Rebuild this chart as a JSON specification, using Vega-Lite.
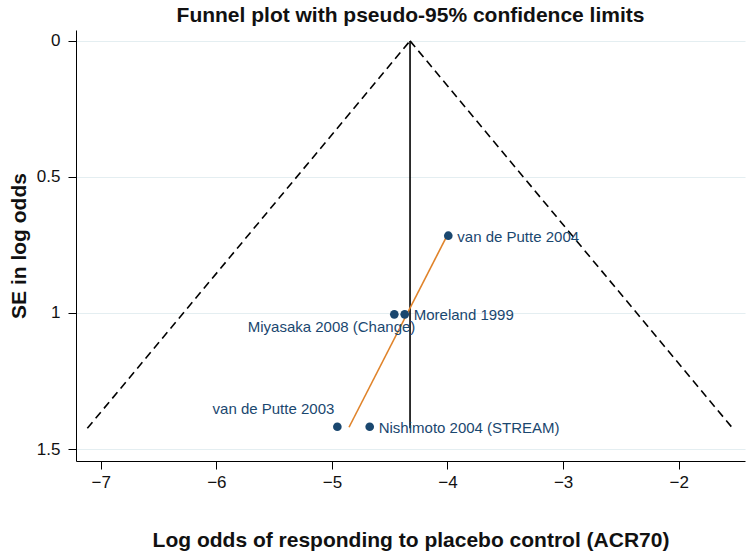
{
  "$schema": "https://vega.github.io/schema/vega-lite/v6.json",
  "autosize": "none",
  "width": 669,
  "height": 431,
  "padding": {"left": 76, "top": 30, "right": 7, "bottom": 97},
  "background": "white",
  "title": {"text": "Funnel plot with pseudo-95% confidence limits", "font": "Liberation Sans", "fontSize": 21, "fontWeight": "bold", "color": "#111", "anchor": "middle", "offset": 4},
  "config": {
    "view": {"stroke": null},
    "font": "Liberation Sans"
  },
  "datasets": {
    "funnel": [
      {"x": -7.116, "se": 1.424, "side": "left"},
      {"x": -4.324, "se": 0, "side": "left"},
      {"x": -4.324, "se": 0, "side": "right"},
      {"x": -1.532, "se": 1.424, "side": "right"}
    ],
    "center": [{"x": -4.324, "se": 0, "se2": 1.424}],
    "egger": [
      {"x": -4.852, "se": 1.42},
      {"x": -3.998, "se": 0.711}
    ],
    "studies": [
      {"study": "van de Putte 2004", "x": -3.993, "se": 0.716, "pos": "right"},
      {"study": "Moreland 1999", "x": -4.37, "se": 1.005, "pos": "right"},
      {"study": "Miyasaka 2008 (Change)", "x": -4.46, "se": 1.005, "pos": "belowleft"},
      {"study": "van de Putte 2003", "x": -4.953, "se": 1.418, "pos": "aboveleft"},
      {"study": "Nishimoto 2004 (STREAM)", "x": -4.673, "se": 1.418, "pos": "right"}
    ]
  },
  "encoding": {
    "x": {
      "field": "x", "type": "quantitative",
      "scale": {"domain": [-7.214, -1.426], "nice": false, "zero": false},
      "axis": {
        "title": "Log odds of responding to placebo control (ACR70)",
        "values": [-7, -6, -5, -4, -3, -2],
        "format": "d",
        "grid": false,
        "domainColor": "#000", "tickColor": "#000", "tickSize": 8,
        "labelFontSize": 17, "labelColor": "#111", "labelPadding": 5,
        "titleFontSize": 21, "titleFontWeight": "bold", "titleColor": "#111", "titlePadding": 39
      }
    },
    "y": {
      "field": "se", "type": "quantitative",
      "scale": {"domain": [1.544, -0.04], "nice": false, "zero": false},
      "axis": {
        "title": "SE in log odds",
        "values": [0, 0.5, 1, 1.5],
        "labelExpr": "datum.value == 0 ? '0' : datum.value == 1 ? '1' : datum.value == 0.5 ? '0.5' : '1.5'",
        "grid": true, "gridColor": "#e4eef1", "gridWidth": 1.2,
        "domainColor": "#000", "tickColor": "#000", "tickSize": 8,
        "labelFontSize": 17, "labelColor": "#111", "labelPadding": 8,
        "titleFontSize": 21, "titleFontWeight": "bold", "titleColor": "#111", "titlePadding": 7
      }
    }
  },
  "layer": [
    {
      "data": {"name": "funnel"},
      "mark": {"type": "line", "color": "#000", "strokeWidth": 1.6, "strokeDash": [8, 5]},
      "encoding": {"detail": {"field": "side"}}
    },
    {
      "data": {"name": "center"},
      "mark": {"type": "rule", "color": "#000", "strokeWidth": 1.6},
      "encoding": {"y2": {"field": "se2"}}
    },
    {
      "data": {"name": "egger"},
      "mark": {"type": "line", "color": "#e0832a", "strokeWidth": 1.6},
      "encoding": {}
    },
    {
      "data": {"name": "studies"},
      "mark": {"type": "point", "filled": true, "size": 75, "opacity": 1, "color": "#1a476f"},
      "encoding": {}
    },
    {
      "data": {"name": "studies"},
      "transform": [{"filter": "datum.pos == 'right'"}],
      "mark": {"type": "text", "align": "left", "baseline": "middle", "dx": 9, "dy": 1, "fontSize": 15, "color": "#1a476f"},
      "encoding": {"text": {"field": "study"}}
    },
    {
      "data": {"name": "studies"},
      "transform": [{"filter": "datum.pos == 'belowleft'"}],
      "mark": {"type": "text", "align": "right", "baseline": "middle", "dx": 21, "dy": 13, "fontSize": 15, "color": "#1a476f"},
      "encoding": {"text": {"field": "study"}}
    },
    {
      "data": {"name": "studies"},
      "transform": [{"filter": "datum.pos == 'aboveleft'"}],
      "mark": {"type": "text", "align": "right", "baseline": "middle", "dx": -3, "dy": -18, "fontSize": 15, "color": "#1a476f"},
      "encoding": {"text": {"field": "study"}}
    }
  ]
}
